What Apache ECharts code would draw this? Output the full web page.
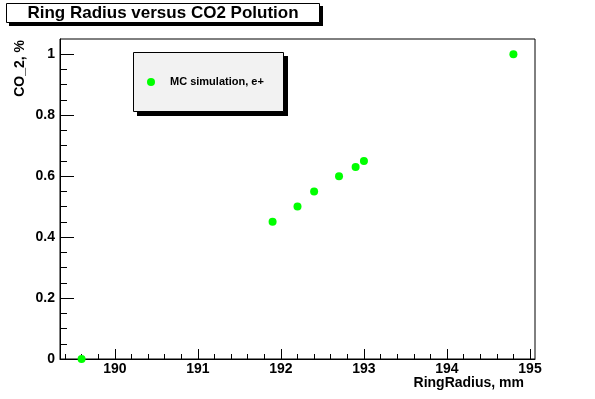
<!DOCTYPE html>
<html>
<head>
<meta charset="utf-8">
<script src="https://cdn.jsdelivr.net/npm/echarts@6/dist/echarts.min.js"></script>
<style>
  html, body { margin: 0; padding: 0; background: #fff; }
  #chart { width: 595px; height: 399px; }
</style>
</head>
<body>
<div id="chart"></div>
<script>
// ring radius (mm) vs CO2 fraction, MC simulation e+
const ringRadius = [189.6, 191.9, 192.2, 192.4, 192.7, 192.9, 193.0, 194.8];
const co2 = [0.0, 0.45, 0.5, 0.55, 0.6, 0.63, 0.65, 1.0];

const xTicks = [190, 191, 192, 193, 194, 195];
const yTicks = [0, 0.2, 0.4, 0.6, 0.8, 1];

const xRange = [189.34, 195.06];
const yRange = [0, 1.05];

// minor ticks: 5 per major step on x, 4 per major step on y
const xMinor = [];
for (let v = 189.4; v < 195.0; v += 0.2) {
    const r = Math.round(v * 10) / 10;
    if (!xTicks.includes(r)) xMinor.push(r);
}
const yMinor = [];
for (let v = 0.05; v < 1.0; v += 0.05) {
    const r = Math.round(v * 100) / 100;
    if (!yTicks.includes(r)) yMinor.push(r);
}

const font = 'Liberation Sans, Arial, Helvetica, sans-serif';
const chart = echarts.init(document.getElementById('chart'));

chart.setOption({
    animation: false,
    backgroundColor: '#fff',
    title: {
        text: 'Ring Radius versus CO2 Polution',
        left: 163,
        top: 5,
        textAlign: 'center',
        padding: 0,
        textStyle: { fontFamily: font, fontSize: 17, fontWeight: 'bold', color: '#000', lineHeight: 17 },
        z: 10
    },
    legend: {
        left: 147,
        top: 75,
        padding: 0,
        itemWidth: 28,
        itemHeight: 8,
        icon: 'circle',
        itemStyle: { opacity: 1 },
        textStyle: { fontFamily: font, fontSize: 11, fontWeight: 'bold', color: '#000', lineHeight: 14 },
        z: 10
    },
    graphic: [
        // title box + shadow
        { type: 'rect', shape: { x: 9, y: 6, width: 314, height: 20 }, style: { fill: '#000' }, z: 1 },
        { type: 'rect', shape: { x: 6.5, y: 3.5, width: 313, height: 19 }, style: { fill: '#fff', stroke: '#000', lineWidth: 1 }, z: 2 },
        // legend box + shadow
        { type: 'rect', shape: { x: 137, y: 56, width: 151, height: 60 }, style: { fill: '#000' }, z: 1 },
        { type: 'rect', shape: { x: 133.5, y: 52.5, width: 150, height: 59 }, style: { fill: '#f2f2f2', stroke: '#000', lineWidth: 1 }, z: 2 },
        // axis titles
        { type: 'text', x: 524, y: 383, style: { text: 'RingRadius, mm', font: 'bold 14px ' + font, fill: '#000', align: 'right', verticalAlign: 'middle' }, z: 5 },
        { type: 'text', x: 20, y: 40, rotation: Math.PI / 2, style: { text: 'CO_2, %', font: 'bold 14px ' + font, fill: '#000', align: 'right', verticalAlign: 'middle' }, z: 5 }
    ],
    grid: {
        left: 60, right: 60, top: 39, bottom: 40,
        show: true, borderColor: '#000', borderWidth: 1, backgroundColor: 'transparent'
    },
    xAxis: [
        {
            type: 'value', position: 'bottom', min: xRange[0], max: xRange[1],
            axisLine: { show: true, lineStyle: { color: '#000', width: 1 } },
            axisTick: { show: true, inside: true, length: 10, customValues: xTicks, lineStyle: { color: '#000' } },
            axisLabel: { customValues: xTicks, margin: 3, color: '#000', fontFamily: font, fontSize: 14, fontWeight: 'bold' },
            splitLine: { show: false }
        },
        {
            type: 'value', position: 'bottom', offset: 0, min: xRange[0], max: xRange[1],
            axisLine: { show: false },
            axisTick: { show: true, inside: true, length: 5, customValues: xMinor, lineStyle: { color: '#000' } },
            axisLabel: { show: false },
            splitLine: { show: false }
        }
    ],
    yAxis: [
        {
            type: 'value', position: 'left', min: yRange[0], max: yRange[1],
            axisLine: { show: true, lineStyle: { color: '#000', width: 1 } },
            axisTick: { show: true, inside: true, length: 14, customValues: yTicks, lineStyle: { color: '#000' } },
            axisLabel: { customValues: yTicks, margin: 5, color: '#000', fontFamily: font, fontSize: 14, fontWeight: 'bold' },
            splitLine: { show: false }
        },
        {
            type: 'value', position: 'left', offset: 0, min: yRange[0], max: yRange[1],
            axisLine: { show: false },
            axisTick: { show: true, inside: true, length: 7, customValues: yMinor, lineStyle: { color: '#000' } },
            axisLabel: { show: false },
            splitLine: { show: false }
        }
    ],
    series: [
        {
            name: 'MC simulation, e+',
            type: 'scatter',
            xAxisIndex: 0,
            yAxisIndex: 0,
            symbol: 'circle',
            symbolSize: 8,
            itemStyle: { color: '#00ff00', opacity: 1 },
            data: ringRadius.map((x, i) => [x, co2[i]]),
            z: 5
        }
    ]
});
</script>
</body>
</html>
